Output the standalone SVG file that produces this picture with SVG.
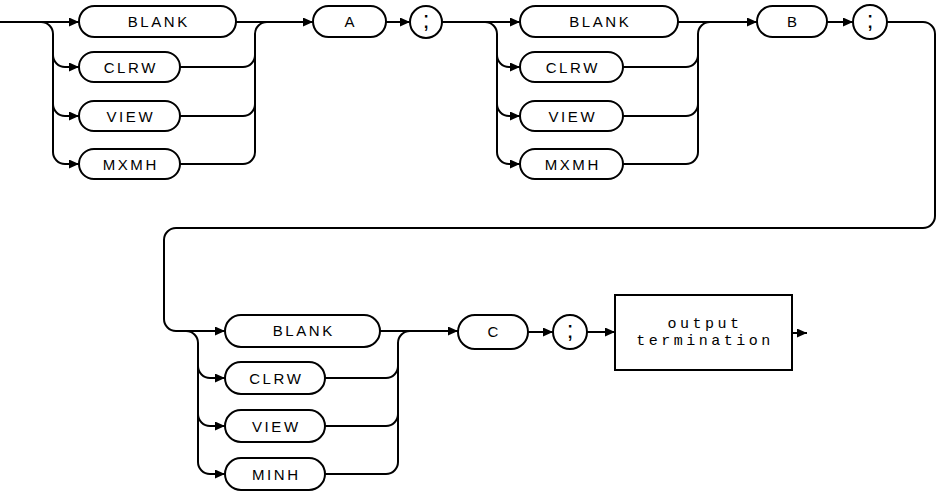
<svg xmlns="http://www.w3.org/2000/svg" width="940" height="495" viewBox="0 0 940 495">
<defs>
<marker id="ah" markerUnits="userSpaceOnUse" markerWidth="11" markerHeight="9" refX="10" refY="4.5" orient="auto">
<path d="M0,0 L10,4.5 L0,9 z" fill="#000"/>
</marker>
<style>
.n{fill:#fff;stroke:#000;stroke-width:2}
.t{font-family:"Liberation Sans",Arial,sans-serif;font-size:15px;letter-spacing:2.6px;text-anchor:middle;dominant-baseline:central;fill:#000}
.m{font-family:"Liberation Mono","DejaVu Sans Mono",monospace;font-size:15px;letter-spacing:3.5px;text-anchor:middle;dominant-baseline:central;fill:#000}
.s{font-family:"Liberation Sans",Arial,sans-serif;font-size:24px;text-anchor:middle;fill:#000}
.c{fill:none;stroke:#000;stroke-width:2}
.a{marker-end:url(#ah)}
</style>
</defs>
<rect width="940" height="495" fill="#fff"/>
<g id="connectors">
<path class="c a" d="M0,22 H79"/>
<path class="c a" d="M41,22 A12,12 0 0 1 53,34 V152 A12,12 0 0 0 65,164 H79"/>
<path class="c a" d="M53,55 A12,12 0 0 0 65,67 H79"/>
<path class="c a" d="M53,104 A12,12 0 0 0 65,116 H79"/>
<path class="c a" d="M236,22 H313"/>
<path class="c" d="M180,164 H243 A12,12 0 0 0 255,152 V34 A12,12 0 0 1 267,22"/>
<path class="c" d="M180,67 H243 A12,12 0 0 0 255,55"/>
<path class="c" d="M180,116 H243 A12,12 0 0 0 255,104"/>
<path class="c a" d="M386,22 H410"/>
<path class="c a" d="M442,22 H520"/>
<path class="c a" d="M485,22 A12,12 0 0 1 497,34 V152 A12,12 0 0 0 509,164 H520"/>
<path class="c a" d="M497,55 A12,12 0 0 0 509,67 H520"/>
<path class="c a" d="M497,104 A12,12 0 0 0 509,116 H520"/>
<path class="c a" d="M678,22 H757"/>
<path class="c" d="M623,164 H686 A12,12 0 0 0 698,152 V34 A12,12 0 0 1 710,22"/>
<path class="c" d="M623,67 H686 A12,12 0 0 0 698,55"/>
<path class="c" d="M623,116 H686 A12,12 0 0 0 698,104"/>
<path class="c a" d="M827,22 H853"/>
<path class="c a" d="M887,22 H923 A12,12 0 0 1 935,34 V216 A12,12 0 0 1 923,228 H176 A12,12 0 0 0 164,240 V319 A12,12 0 0 0 176,331 H225"/>
<path class="c a" d="M186,331 A12,12 0 0 1 198,343 V462 A12,12 0 0 0 210,474 H225"/>
<path class="c a" d="M198,366 A12,12 0 0 0 210,378 H225"/>
<path class="c a" d="M198,414 A12,12 0 0 0 210,426 H225"/>
<path class="c a" d="M380,331 H458"/>
<path class="c" d="M325,474 H386 A12,12 0 0 0 398,462 V343 A12,12 0 0 1 410,331"/>
<path class="c" d="M325,378 H386 A12,12 0 0 0 398,366"/>
<path class="c" d="M325,426 H386 A12,12 0 0 0 398,414"/>
<path class="c a" d="M528,332 H553"/>
<path class="c a" d="M587,332 H615"/>
<path class="c a" d="M792,333 H807"/>
</g>
<g id="blank1"><rect class="n" x="79" y="6" width="157" height="31" rx="15.5"/><text class="t" x="158.8" y="21">BLANK</text></g>
<g id="clrw1"><rect class="n" x="79" y="52" width="101" height="30" rx="15"/><text class="t" x="130.8" y="67">CLRW</text></g>
<g id="view1"><rect class="n" x="79" y="101" width="101" height="30" rx="15"/><text class="t" x="130.8" y="116">VIEW</text></g>
<g id="mxmh1"><rect class="n" x="79" y="149" width="101" height="30" rx="15"/><text class="t" x="130.8" y="164">MXMH</text></g>
<g id="a"><rect class="n" x="313" y="6" width="73" height="31" rx="15.5"/><text class="t" x="350.8" y="21">A</text></g>
<g id="semi1"><circle class="n" cx="426" cy="22" r="16"/><text class="s" x="426" y="28">;</text></g>
<g id="blank2"><rect class="n" x="520" y="6" width="158" height="31" rx="15.5"/><text class="t" x="600.3" y="21">BLANK</text></g>
<g id="clrw2"><rect class="n" x="520" y="52" width="103" height="30" rx="15"/><text class="t" x="572.8" y="67">CLRW</text></g>
<g id="view2"><rect class="n" x="520" y="101" width="103" height="30" rx="15"/><text class="t" x="572.8" y="116">VIEW</text></g>
<g id="mxmh2"><rect class="n" x="520" y="149" width="103" height="30" rx="15"/><text class="t" x="572.8" y="164">MXMH</text></g>
<g id="b"><rect class="n" x="757" y="6" width="70" height="31" rx="15.5"/><text class="t" x="793.3" y="21">B</text></g>
<g id="semi2"><circle class="n" cx="870" cy="22" r="17"/><text class="s" x="870" y="28">;</text></g>
<g id="blank3"><rect class="n" x="225" y="315" width="155" height="32" rx="16"/><text class="t" x="303.8" y="330">BLANK</text></g>
<g id="clrw3"><rect class="n" x="225" y="362" width="100" height="32" rx="16"/><text class="t" x="276.3" y="378">CLRW</text></g>
<g id="view3"><rect class="n" x="225" y="410" width="100" height="32" rx="16"/><text class="t" x="276.3" y="426">VIEW</text></g>
<g id="minh"><rect class="n" x="225" y="458" width="100" height="32" rx="16"/><text class="t" x="276.3" y="474">MINH</text></g>
<g id="c"><rect class="n" x="458" y="315" width="70" height="34" rx="17"/><text class="t" x="494.3" y="331">C</text></g>
<g id="semi3"><circle class="n" cx="570" cy="332" r="17"/><text class="s" x="570" y="338">;</text></g>
<g id="output"><rect class="n" x="615" y="295" width="177" height="75"/><text class="m" x="705" y="324">output</text><text class="m" x="705" y="341">termination</text></g>
</svg>
